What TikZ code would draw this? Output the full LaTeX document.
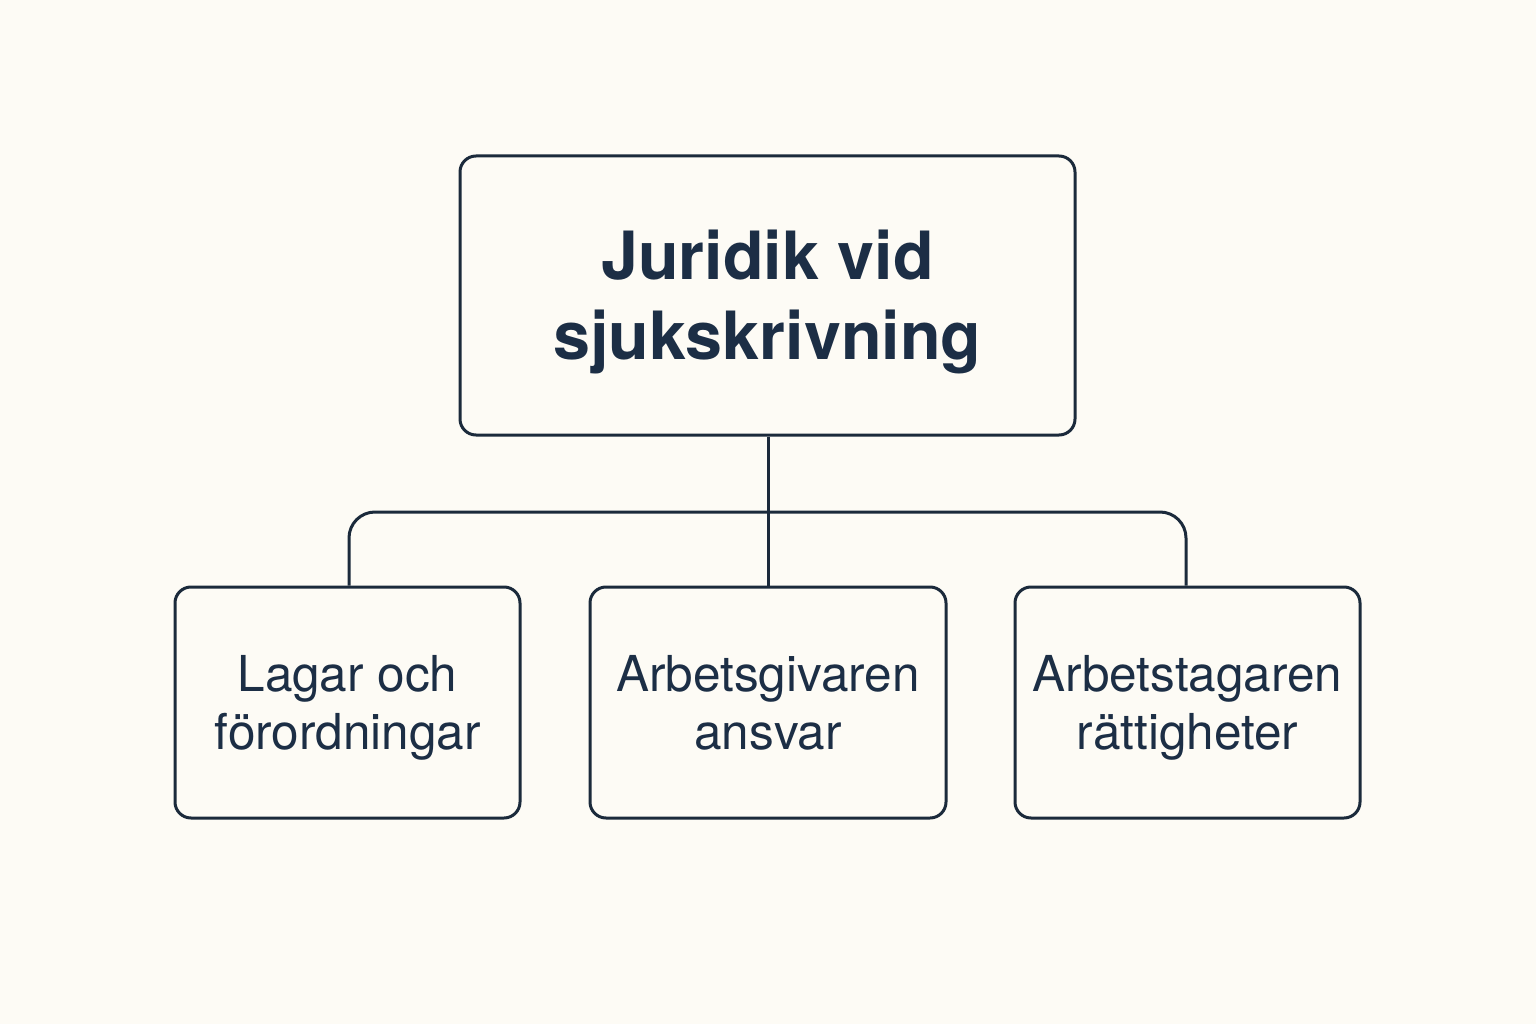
\documentclass[tikz,border=0pt]{standalone}
\usepackage{fontspec}
\setmainfont{TeX Gyre Heros}
\begin{document}
\begin{tikzpicture}[x=1pt,y=-1pt,
  ink/.style={draw=linec, line width=3pt},
  topbox/.style={ink, rounded corners=16pt, minimum width=615pt, minimum height=279pt, inner sep=0pt, align=center, text=txtc, text depth=1pt, font=\fontsize{66.5}{80}\selectfont\bfseries},
  subbox/.style={ink, rounded corners=16pt, minimum width=345pt, minimum height=231pt, inner sep=0pt, align=center, text=txtc, text depth=0pt, font=\fontsize{49.5}{58}\selectfont},
  conn/.style={ink, rounded corners=26pt}]
\definecolor{bgc}{HTML}{FDFBF5}
\definecolor{linec}{HTML}{1B2A3B}
\definecolor{txtc}{HTML}{1C2E45}
\fill[bgc] (0,0) rectangle (1536,1024);
\useasboundingbox (0,0) rectangle (1536,1024);
\node[topbox] (top) at (767.5,295.5) {Juridik vid\\sjukskrivning};
\node[subbox] (a) at (347.5,702.5) {Lagar och\\förordningar};
\node[subbox, minimum width=356pt] (b) at (768,702.5) {Arbetsgivaren\\ansvar};
\node[subbox] (c) at (1187.5,702.5) {Arbetstagaren\\rättigheter};
\coordinate (j) at (768,512);
\draw[ink] (top.south -| j) -- (b.north -| j);
\draw[conn] (a.north -| 349,0) -- (349,512) -- (1186,512) -- (c.north -| 1186,0);
\end{tikzpicture}
\end{document}
